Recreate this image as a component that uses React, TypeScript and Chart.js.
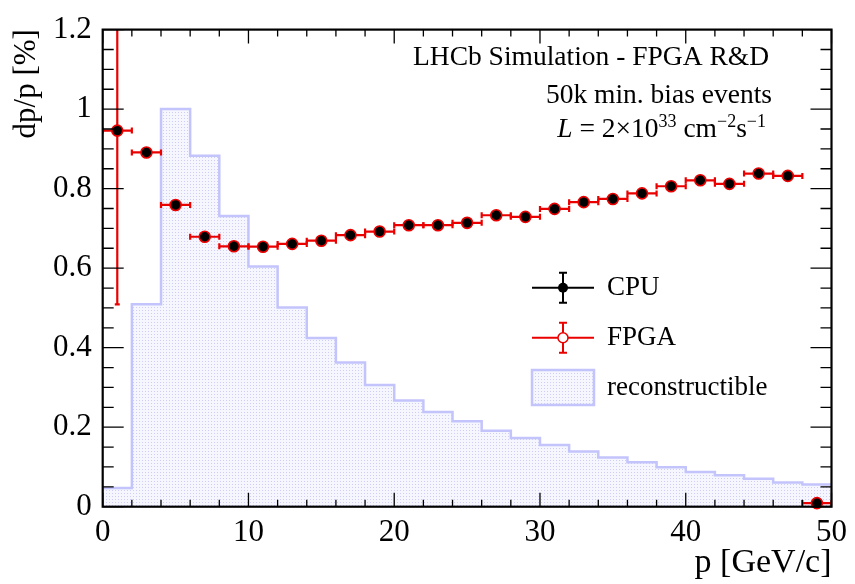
import React, { useEffect, useRef } from "react";
import { Chart, registerables } from "chart.js";

Chart.register(...registerables);

// ---- data ----
const binCenters = [1, 3, 5, 7, 9, 11, 13, 15, 17, 19, 21, 23, 25, 27, 29, 31, 33, 35, 37, 39, 41, 43, 45, 47, 49];
const binHalfWidth = 1;
const reconstructible = [0.047, 0.509, 1.0, 0.883, 0.731, 0.604, 0.501, 0.424, 0.363, 0.306, 0.267, 0.238, 0.215, 0.191, 0.173, 0.155, 0.139, 0.124, 0.112, 0.099, 0.087, 0.079, 0.070, 0.061, 0.056];
const resolution = [0.946, 0.891, 0.759, 0.679, 0.655, 0.654, 0.661, 0.669, 0.683, 0.692, 0.708, 0.708, 0.714, 0.733, 0.729, 0.749, 0.766, 0.774, 0.788, 0.806, 0.821, 0.812, 0.838, 0.832, 0.009];
const resolutionErr = [0.437, 0, 0, 0, 0, 0, 0, 0, 0, 0, 0, 0, 0, 0, 0, 0, 0, 0, 0, 0, 0, 0, 0, 0, 0];
const xTicks = [0, 10, 20, 30, 40, 50];
const yTicks = [0, 0.2, 0.4, 0.6, 0.8, 1, 1.2];
const headerLines = ["LHCb Simulation - FPGA R&D", "50k min. bias events"];
const legendLabels = ["CPU", "FPGA", "reconstructible"];
const xTitle = "p [GeV/c]";
const yTitle = "dp/p [%]";

const SERIF = "'Liberation Serif', 'Times New Roman', serif";
const RED = "rgb(235,0,0)";
const HIST_LINE = "rgb(196,196,252)";

function makePattern(): CanvasPattern | string {
  const c = document.createElement("canvas");
  c.width = 3;
  c.height = 3;
  const g = c.getContext("2d");
  if (!g) return "rgba(220,220,255,0.3)";
  g.fillStyle = "rgba(246,246,255,1)";
  g.fillRect(0, 0, 3, 3);
  g.fillStyle = "rgba(205,205,245,1)";
  g.fillRect(1, 1, 1, 1);
  const p = g.createPattern(c, "repeat");
  return p || "rgba(220,220,255,0.3)";
}

export default function App() {
  const ref = useRef<HTMLCanvasElement | null>(null);

  useEffect(() => {
    if (!ref.current) return;
    const pattern = makePattern();

    const histPoints = reconstructible.map((v, i) => ({ x: binCenters[i] - binHalfWidth, y: v }));
    histPoints.push({ x: binCenters[binCenters.length - 1] + binHalfWidth, y: reconstructible[reconstructible.length - 1] });

    const errorBars = {
      id: "errorBars",
      afterDatasetDraw(chart: any, args: any) {
        if (args.index !== 1) return;
        const { ctx, chartArea: a } = chart;
        const xs = chart.scales.x;
        const ys = chart.scales.y;
        ctx.save();
        ctx.beginPath();
        ctx.rect(a.left, a.top, a.right - a.left, a.bottom - a.top + 10);
        ctx.clip();
        ctx.strokeStyle = RED;
        ctx.lineWidth = 2.2;
        binCenters.forEach((c, i) => {
          const y = ys.getPixelForValue(resolution[i]);
          const x0 = xs.getPixelForValue(c - binHalfWidth);
          const x1 = xs.getPixelForValue(c + binHalfWidth);
          ctx.beginPath();
          ctx.moveTo(x0, y);
          ctx.lineTo(x1, y);
          ctx.moveTo(x0, y - 3);
          ctx.lineTo(x0, y + 3);
          ctx.moveTo(x1, y - 3);
          ctx.lineTo(x1, y + 3);
          ctx.stroke();
          const e = resolutionErr[i];
          if (e > 0) {
            const xc = xs.getPixelForValue(c);
            const yt = ys.getPixelForValue(resolution[i] + e);
            const yb = ys.getPixelForValue(resolution[i] - e);
            ctx.beginPath();
            ctx.moveTo(xc, yt);
            ctx.lineTo(xc, yb);
            ctx.moveTo(xc - 2.5, yb);
            ctx.lineTo(xc + 2.5, yb);
            ctx.moveTo(xc - 2.5, yt);
            ctx.lineTo(xc + 2.5, yt);
            ctx.stroke();
          }
        });
        ctx.restore();
      },
    };

    const frame = {
      id: "frame",
      afterDraw(chart: any) {
        const { ctx, chartArea: a } = chart;
        const xs = chart.scales.x;
        const ys = chart.scales.y;
        ctx.save();
        // ticks
        ctx.strokeStyle = "#000";
        ctx.lineWidth = 1.3;
        ctx.beginPath();
        for (let k = 0; k <= 25; k++) {
          const v = k * 2;
          const x = xs.getPixelForValue(v);
          const len = v % 10 === 0 ? 14 : 7;
          ctx.moveTo(x, a.bottom);
          ctx.lineTo(x, a.bottom - len);
          ctx.moveTo(x, a.top);
          ctx.lineTo(x, a.top + len);
        }
        for (let k = 0; k <= 24; k++) {
          const v = k * 0.05;
          const y = ys.getPixelForValue(v);
          const len = k % 4 === 0 ? 21 : 11;
          ctx.moveTo(a.left, y);
          ctx.lineTo(a.left + len, y);
          ctx.moveTo(a.right, y);
          ctx.lineTo(a.right - len, y);
        }
        ctx.stroke();
        // frame
        ctx.lineWidth = 2.2;
        ctx.strokeRect(a.left, a.top, a.right - a.left, a.bottom - a.top);

        // titles
        ctx.fillStyle = "#000";
        ctx.font = `34px ${SERIF}`;
        ctx.textAlign = "right";
        ctx.textBaseline = "alphabetic";
        ctx.fillText(xTitle, a.right, 572);
        ctx.save();
        ctx.font = `31px ${SERIF}`;
        ctx.translate(35, a.top - 0.5);
        ctx.rotate(-Math.PI / 2);
        ctx.textAlign = "right";
        ctx.fillText(yTitle, 0, 0);
        ctx.restore();

        // header text
        ctx.font = `27.5px ${SERIF}`;
        ctx.textAlign = "right";
        ctx.fillText(headerLines[0], 769, 65);
        ctx.fillText(headerLines[1], 772, 103);
        // luminosity line
        const parts: { t: string; f: string; dy: number }[] = [
          { t: "L", f: `italic 27.5px ${SERIF}`, dy: 0 },
          { t: " = 2×10", f: `27.5px ${SERIF}`, dy: 0 },
          { t: "33", f: `18px ${SERIF}`, dy: -10 },
          { t: " cm", f: `27.5px ${SERIF}`, dy: 0 },
          { t: "−2", f: `18px ${SERIF}`, dy: -10 },
          { t: "s", f: `27.5px ${SERIF}`, dy: 0 },
          { t: "−1", f: `18px ${SERIF}`, dy: -10 },
        ];
        let total = 0;
        parts.forEach((p) => {
          ctx.font = p.f;
          total += ctx.measureText(p.t).width;
        });
        let cx = 766 - total;
        ctx.textAlign = "left";
        parts.forEach((p) => {
          ctx.font = p.f;
          ctx.fillText(p.t, cx, 137 + p.dy);
          cx += ctx.measureText(p.t).width;
        });

        // legend
        const lx0 = 532, lx1 = 594, lxc = 563;
        const rows = [287.7, 337.7];
        const cols = ["#000", RED];
        rows.forEach((ry, i) => {
          ctx.strokeStyle = cols[i];
          ctx.lineWidth = 2;
          ctx.beginPath();
          ctx.moveTo(lx0, ry);
          ctx.lineTo(lx1, ry);
          ctx.moveTo(lxc, ry - 15);
          ctx.lineTo(lxc, ry + 15);
          ctx.moveTo(lxc - 4, ry - 15);
          ctx.lineTo(lxc + 4, ry - 15);
          ctx.moveTo(lxc - 4, ry + 15);
          ctx.lineTo(lxc + 4, ry + 15);
          ctx.stroke();
          ctx.beginPath();
          ctx.arc(lxc, ry, 5, 0, Math.PI * 2);
          if (i === 0) {
            ctx.fillStyle = "#000";
            ctx.fill();
          } else {
            ctx.fillStyle = "#fff";
            ctx.fill();
            ctx.lineWidth = 1.5;
            ctx.stroke();
          }
        });
        ctx.fillStyle = pattern as any;
        ctx.fillRect(532, 370, 62, 35);
        ctx.strokeStyle = HIST_LINE;
        ctx.lineWidth = 2.5;
        ctx.strokeRect(532, 370, 62, 35);

        ctx.fillStyle = "#000";
        ctx.font = `27px ${SERIF}`;
        ctx.textAlign = "left";
        ctx.textBaseline = "middle";
        ctx.fillText(legendLabels[0], 607, 288);
        ctx.fillText(legendLabels[1], 607, 338);
        ctx.fillText(legendLabels[2], 607, 388);
        ctx.restore();
      },
    };

    const chart = new Chart(ref.current, {
      type: "scatter",
      data: {
        datasets: [
          {
            label: "CPU / FPGA",
            type: "scatter",
            data: binCenters.map((c, i) => ({ x: c, y: resolution[i] })),
            pointRadius: 5.5,
            pointBackgroundColor: "#000",
            pointBorderColor: RED,
            pointBorderWidth: 1.6,
            clip: false as any,
          } as any,
          {
            label: "reconstructible",
            type: "line",
            data: histPoints,
            stepped: "before",
            borderColor: HIST_LINE,
            borderWidth: 2.5,
            backgroundColor: pattern as any,
            fill: "origin",
            pointRadius: 0,
          } as any,
        ],
      },
      options: {
        responsive: false,
        animation: false,
        events: [],
        layout: { padding: { top: 23.5, right: 22.3, left: 0, bottom: 0 }, autoPadding: false } as any,
        plugins: { legend: { display: false }, tooltip: { enabled: false } },
        scales: {
          x: {
            type: "linear",
            min: 0,
            max: 50,
            afterFit: (s: any) => {
              s.height = 77.3;
            },
            afterBuildTicks: (s: any) => {
              s.ticks = xTicks.map((v) => ({ value: v }));
            },
            grid: { display: false, drawTicks: false },
            border: { display: false },
            ticks: {
              color: "#000",
              padding: 8,
              maxRotation: 0,
              font: { family: SERIF, size: 31 },
              callback: (v: any) => String(v),
            },
          },
          y: {
            type: "linear",
            min: 0,
            max: 1.2,
            afterFit: (s: any) => {
              s.width = 102.7;
            },
            afterBuildTicks: (s: any) => {
              s.ticks = yTicks.map((v) => ({ value: v }));
            },
            grid: { display: false, drawTicks: false },
            border: { display: false },
            ticks: {
              color: "#000",
              padding: 11,
              font: { family: SERIF, size: 31 },
              callback: (v: any) => String(Math.round(Number(v) * 10) / 10),
            },
          },
        },
      },
      plugins: [errorBars, frame],
    } as any);

    return () => chart.destroy();
  }, []);

  return (
    <div style={{ position: "fixed", left: 0, top: 0, width: 855, height: 584, background: "#fff" }}>
      <canvas ref={ref} width={855} height={584} style={{ display: "block" }} />
    </div>
  );
}
